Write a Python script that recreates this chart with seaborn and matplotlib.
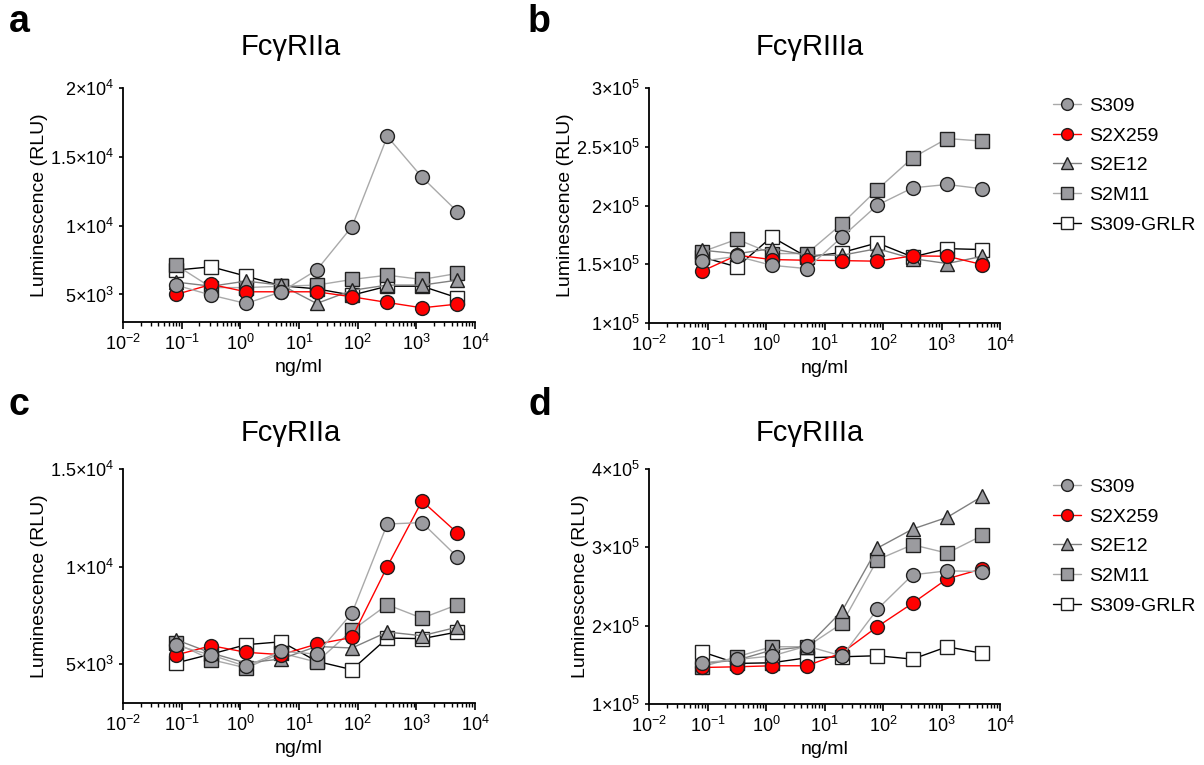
import math

import matplotlib
matplotlib.use("Agg")
import matplotlib.pyplot as plt
import matplotlib.ticker as mticker
import seaborn as sns

# concentrations (ng/ml), 4-fold dilution series
conc = [0.08, 0.32, 1.25, 5, 20, 80, 320, 1250, 5000]

antibodies = ["S309", "S2X259", "S2E12", "S2M11", "S309-GRLR"]

# panel a: FcyRIIa
a_S309 = [5680, 4950, 4345, 5195, 6770, 9930, 16480, 13520, 11020]
a_S2X259 = [5000, 5730, 5195, 5195, 5195, 4830, 4420, 4030, 4300]
a_S2E12 = [5900, 5600, 5970, 5680, 4345, 5300, 5680, 5680, 6040]
a_S2M11 = [7140, 5500, 5500, 5600, 5680, 6090, 6400, 6090, 6530]
a_GRLR = [6770, 7010, 6330, 5630, 5410, 4950, 5600, 5600, 4760]

# panel b: FcyRIIIa
b_S309 = [152600, 156800, 149100, 146300, 173300, 200300, 215000, 217900, 214200]
b_S2X259 = [144000, 157700, 154000, 153400, 153100, 152600, 157100, 156800, 149700]
b_S2E12 = [162000, 159000, 163300, 157700, 157700, 163300, 154800, 150600, 156800]
b_S2M11 = [160500, 171300, 159100, 159100, 184600, 213600, 240600, 257000, 254800]
b_GRLR = [156200, 147700, 173300, 156200, 160000, 168200, 156200, 163300, 162500]

# panel c: FcyRIIa
c_S309 = [5955, 5460, 4880, 5650, 5510, 7610, 12180, 12250, 10490]
c_S2X259 = [5460, 5940, 5600, 5480, 6020, 6360, 10000, 13360, 11720]
c_S2E12 = [6250, 5560, 5050, 5260, 5900, 5820, 6640, 6450, 6890]
c_S2M11 = [6070, 5220, 4800, 5560, 5100, 6720, 8040, 7350, 8040]
c_GRLR = [5050, 5510, 5990, 6140, 5140, 4710, 6330, 6300, 6640]

# panel d: FcyRIIIa
d_S309 = [152600, 156900, 161200, 174000, 161200, 220900, 264900, 270000, 269100]
d_S2X259 = [146600, 147500, 148800, 148800, 165400, 198700, 228600, 259800, 272600]
d_S2E12 = [151800, 156000, 168800, 173100, 218800, 299000, 323300, 338300, 365200]
d_S2M11 = [147500, 160300, 173100, 173100, 203000, 284100, 303300, 292600, 315200]
d_GRLR = [166700, 151800, 152600, 159000, 160300, 161600, 157300, 173100, 164600]

styles = {
    "S309": dict(color="#a9a9a9", marker="o", markerfacecolor="#9b9b9f"),
    "S2X259": dict(color="#ff0000", marker="o", markerfacecolor="#ff0000"),
    "S2E12": dict(color="#808080", marker="^", markerfacecolor="#9b9b9f"),
    "S2M11": dict(color="#a9a9a9", marker="s", markerfacecolor="#9b9b9f"),
    "S309-GRLR": dict(color="#000000", marker="s", markerfacecolor="#ffffff"),
}

sns.set_theme(style="ticks")
plt.rcParams["font.family"] = ["Liberation Sans", "DejaVu Sans"]
plt.rcParams["mathtext.fontset"] = "custom"
plt.rcParams["mathtext.rm"] = "Liberation Sans"
plt.rcParams["mathtext.it"] = "Liberation Sans"
plt.rcParams["text.color"] = "black"
plt.rcParams["axes.labelcolor"] = "black"
plt.rcParams["xtick.color"] = "black"
plt.rcParams["ytick.color"] = "black"


def sci_label(v):
    exp = int(math.floor(math.log10(v)))
    mant = f"{v / 10 ** exp:g}"
    return r"$\mathregular{" + mant + r"{\times}10^{" + str(exp) + r"}}$"


def draw_panel(ax, series, yticks, ylim, legend=False):
    handles = {}
    for name in reversed(antibodies):
        st = styles[name]
        sns.lineplot(
            x=conc,
            y=series[name],
            ax=ax,
            color=st["color"],
            marker=st["marker"],
            markerfacecolor=st["markerfacecolor"],
            markeredgecolor="#202020",
            markeredgewidth=1.0,
            markersize=10 if st["marker"] != "^" else 10.5,
            linewidth=1.0,
            errorbar=None,
            label=name,
            legend=False,
        )
        handles[name] = ax.lines[-1]
    ax.set_xscale("log")
    ax.set_xlim(1e-2, 1e4)
    ax.set_ylim(*ylim)
    ax.xaxis.set_major_locator(mticker.LogLocator(base=10, numticks=10))
    ax.xaxis.set_minor_locator(mticker.LogLocator(base=10, subs=range(2, 10), numticks=10))
    ax.xaxis.set_minor_formatter(mticker.NullFormatter())
    ax.xaxis.set_major_formatter(mticker.LogFormatterMathtext())
    ax.set_yticks(yticks)
    ax.set_yticklabels([sci_label(v) for v in yticks])
    ax.tick_params(axis="both", which="major", labelsize=13, width=1.2, length=5)
    ax.tick_params(axis="x", which="minor", width=1.0, length=3)
    ax.tick_params(axis="y", which="major", length=3)
    ax.set_xlabel("ng/ml", fontsize=14)
    ax.set_ylabel("Luminescence (RLU)", fontsize=14, labelpad=1)
    for side in ["left", "bottom"]:
        ax.spines[side].set_linewidth(1.3)
        ax.spines[side].set_color("black")
    sns.despine(ax=ax)
    if legend:
        ax.legend(
            [handles[n] for n in antibodies],
            antibodies,
            loc="upper left",
            bbox_to_anchor=(1.1, 1.035),
            frameon=False,
            fontsize=14,
            handlelength=1.45,
            labelspacing=0.62,
            handletextpad=0.45,
            markerscale=0.85,
        )


fig = plt.figure(figsize=(12.04, 7.65), dpi=100)
W, H = 1204, 765


def add_axes(x0, x1, y0, y1):
    return fig.add_axes([x0 / W, 1 - y1 / H, (x1 - x0) / W, (y1 - y0) / H])


ax_a = add_axes(123, 475, 88, 322)
ax_b = add_axes(649, 1000, 88, 323)
ax_c = add_axes(123, 475, 469, 703)
ax_d = add_axes(649, 1000, 469, 704)

draw_panel(ax_a, dict(zip(antibodies, [a_S309, a_S2X259, a_S2E12, a_S2M11, a_GRLR])),
           [5000, 10000, 15000, 20000], (3000, 20000))
draw_panel(ax_b, dict(zip(antibodies, [b_S309, b_S2X259, b_S2E12, b_S2M11, b_GRLR])),
           [100000, 150000, 200000, 250000, 300000], (100000, 300000), legend=True)
draw_panel(ax_c, dict(zip(antibodies, [c_S309, c_S2X259, c_S2E12, c_S2M11, c_GRLR])),
           [5000, 10000, 15000], (3000, 15000))
draw_panel(ax_d, dict(zip(antibodies, [d_S309, d_S2X259, d_S2E12, d_S2M11, d_GRLR])),
           [100000, 200000, 300000, 400000], (100000, 400000), legend=True)

# titles and panel letters
titles = [("FcγRIIa", 291, 47), ("FcγRIIIa", 810, 47), ("FcγRIIa", 291, 433), ("FcγRIIIa", 810, 433)]
for text, x, y in titles:
    fig.text(x / W, 1 - y / H, text, fontsize=21, ha="center", va="center")
for letter, x, y in [("a", 9, 22), ("b", 528, 22), ("c", 9, 405), ("d", 528, 405)]:
    fig.text(x / W, 1 - y / H, letter, fontsize=27, fontweight="bold", ha="left", va="center")

fig.savefig("out.png", dpi=100)
